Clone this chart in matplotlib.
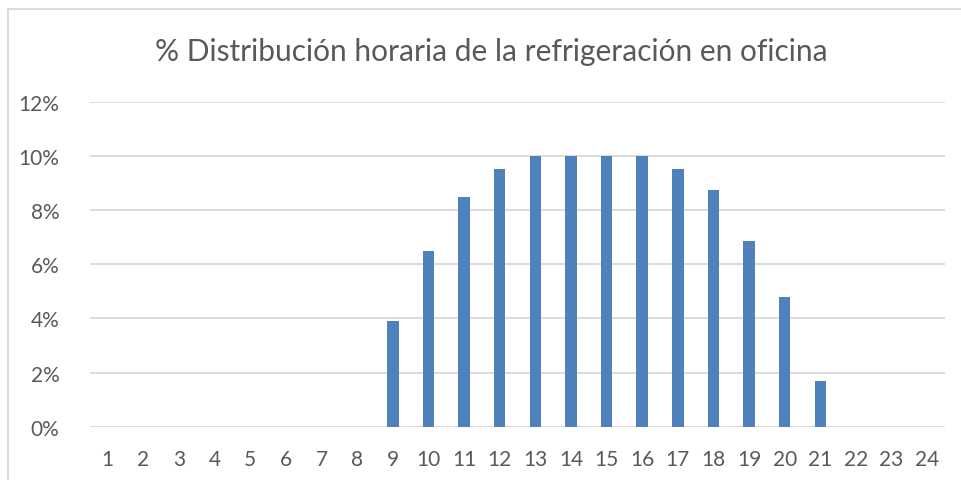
import matplotlib
matplotlib.use("Agg")
import matplotlib.pyplot as plt
from matplotlib.ticker import FuncFormatter
from matplotlib.lines import Line2D

hours = list(range(1, 25))
values = [0, 0, 0, 0, 0, 0, 0, 0, 3.9, 6.5, 8.5, 9.54, 10.0, 10.0, 10.0, 10.0,
          9.54, 8.73, 6.88, 4.8, 1.69, 0, 0, 0]
yticks = [0, 2, 4, 6, 8, 10, 12]
title = "% Distribución horaria de la refrigeración en oficina"

plt.rcParams['font.family'] = ['Lato', 'DejaVu Sans']

fig = plt.figure(figsize=(9.61, 4.81), dpi=100)
ax = fig.add_axes([90/961, 1-427.7/481, (945-90)/961, (427.7-103)/481])

ax.bar(hours, values, width=0.32, color='#4f81bd', zorder=3)
ax.set_xlim(0.5, 24.5)
ax.set_ylim(0, 12)
ax.set_yticks(yticks)
ax.yaxis.set_major_formatter(FuncFormatter(lambda v, p: f"{int(v)}%"))
ax.set_xticks(hours)
ax.set_xticklabels([str(h) for h in hours])
ax.grid(axis='y', color='#d9d9d9', linewidth=1.3, zorder=0)
for s in ax.spines.values():
    s.set_visible(False)
ax.tick_params(axis='both', length=0, labelsize=15, labelcolor='#595959')
ax.tick_params(axis='y', pad=22)
ax.tick_params(axis='x', pad=16)

fig.text(491/961, 1-52/481, title, ha='center', va='center', fontsize=21.5, color='#595959')

# chart border (left and top)
fig.add_artist(Line2D([8/961, 8/961], [0, 1-10/481], transform=fig.transFigure, color='#d9d9d9', linewidth=1.3))
fig.add_artist(Line2D([8/961, 1], [1-10/481, 1-10/481], transform=fig.transFigure, color='#d9d9d9', linewidth=1.3))

fig.savefig("out.png", dpi=100)
